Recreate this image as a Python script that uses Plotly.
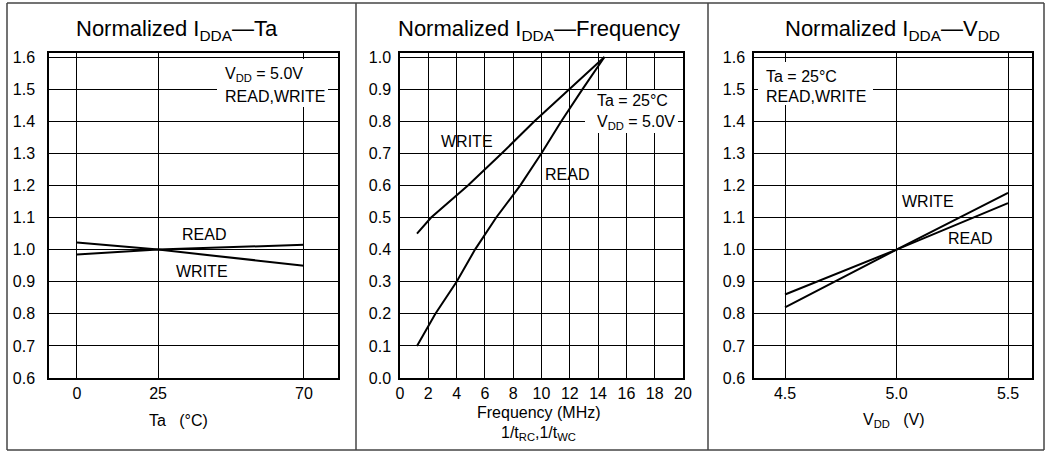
import plotly.graph_objects as go

W, H = 1046, 452

# ---------------- data ----------------
ta_x = [0, 25, 70]
ta_read = [0.985, 1.0, 1.015]
ta_write = [1.022, 1.0, 0.95]

freq_write_x = [1.2, 2.2, 4.8, 7.2, 9.5, 12.0, 14.45]
freq_write_y = [0.45, 0.5, 0.6, 0.7, 0.8, 0.9, 1.0]
freq_read_x = [1.2, 2.5, 4.0, 5.3, 6.8, 8.5, 10.0, 11.4, 12.9, 14.45]
freq_read_y = [0.1, 0.2, 0.3, 0.4, 0.5, 0.6, 0.7, 0.8, 0.9, 1.0]

vdd_x = [4.5, 5.0, 5.5]
vdd_write = [0.82, 1.0, 1.177]
vdd_read = [0.86, 1.0, 1.145]

ta_ticks = [0, 25, 70]
freq_ticks = [0, 2, 4, 6, 8, 10, 12, 14, 16, 18, 20]
vdd_ticks = [4.5, 5.0, 5.5]
vdd_ticklabels = ["4.5", "5.0", "5.5"]
norm_ticks_a = [0.6, 0.7, 0.8, 0.9, 1.0, 1.1, 1.2, 1.3, 1.4, 1.5, 1.6]
norm_ticks_b = [0.0, 0.1, 0.2, 0.3, 0.4, 0.5, 0.6, 0.7, 0.8, 0.9, 1.0]

titles = ["Normalized I<sub>DDA</sub>—Ta",
          "Normalized I<sub>DDA</sub>—Frequency",
          "Normalized I<sub>DDA</sub>—V<sub>DD</sub>"]

# ---------------- helpers ----------------
def px(x):
    return x / W

def py(y):
    return 1 - y / H

FONT = "Liberation Sans, Arial, Helvetica, sans-serif"
LINE = dict(color="black", width=2)

fig = go.Figure()

fig.add_trace(go.Scatter(x=ta_x, y=ta_read, mode="lines", line=LINE, xaxis="x", yaxis="y", name="READ"))
fig.add_trace(go.Scatter(x=ta_x, y=ta_write, mode="lines", line=LINE, xaxis="x", yaxis="y", name="WRITE"))
fig.add_trace(go.Scatter(x=freq_write_x, y=freq_write_y, mode="lines", line=LINE, xaxis="x2", yaxis="y2", name="WRITE"))
fig.add_trace(go.Scatter(x=freq_read_x, y=freq_read_y, mode="lines", line=LINE, xaxis="x2", yaxis="y2", name="READ"))
fig.add_trace(go.Scatter(x=vdd_x, y=vdd_write, mode="lines", line=LINE, xaxis="x3", yaxis="y3", name="WRITE"))
fig.add_trace(go.Scatter(x=vdd_x, y=vdd_read, mode="lines", line=LINE, xaxis="x3", yaxis="y3", name="READ"))

ydom = [py(378), py(53)]
axis_common = dict(showgrid=True, gridcolor="black", gridwidth=1.3, showline=True,
                   linecolor="black", linewidth=1.5, mirror=True, zeroline=False,
                   automargin=False, ticks="",
                   tickfont=dict(size=16, color="black", family=FONT))

fig.update_layout(
    template="none",
    width=W, height=H, margin=dict(l=0, r=0, t=0, b=0, pad=0, autoexpand=False),
    paper_bgcolor="white", plot_bgcolor="white", showlegend=False,
    font=dict(family=FONT, color="black", size=16),
    xaxis=dict(domain=[px(49), px(338)], range=[-8.63, 80.5], tickmode="array",
               tickvals=ta_ticks, anchor="y", ticklabelstandoff=0, **axis_common),
    yaxis=dict(domain=ydom, range=[0.6, 1.6125], tickmode="array", tickvals=norm_ticks_a,
               tickformat=".1f", anchor="x", ticklabelstandoff=9, **axis_common),
    xaxis2=dict(domain=[px(400), px(683)], range=[0, 20], tickmode="array",
                tickvals=freq_ticks, anchor="y2", ticklabelstandoff=0, **axis_common),
    yaxis2=dict(domain=ydom, range=[0, 1.0125], tickmode="array", tickvals=norm_ticks_b,
                tickformat=".1f", anchor="x2", ticklabelstandoff=4, **axis_common),
    xaxis3=dict(domain=[px(754), px(1032)], range=[4.361, 5.6076], tickmode="array",
                tickvals=vdd_ticks, ticktext=vdd_ticklabels, anchor="y3", ticklabelstandoff=0, **axis_common),
    yaxis3=dict(domain=ydom, range=[0.6, 1.6125], tickmode="array", tickvals=norm_ticks_a,
                tickformat=".1f", anchor="x3", ticklabelstandoff=4, **axis_common),
)

shapes = []
# outer frame and separators
for xv in [7, 356, 708, 1044]:
    shapes.append(dict(type="line", xref="paper", yref="paper", x0=px(xv), x1=px(xv),
                       y0=py(3), y1=py(450), line=dict(color="#444", width=1.5)))
for yv in [3, 450]:
    shapes.append(dict(type="line", xref="paper", yref="paper", x0=px(7), x1=px(1044),
                       y0=py(yv), y1=py(yv), line=dict(color="#444", width=1.5)))
fig.update_layout(shapes=shapes)

ann = []
# white boxes behind condition notes (hide gridlines)
for (x0, x1, y0, y1) in [(217, 328, 59, 107), (585, 678, 90, 133), (758, 873, 62, 105)]:
    ann.append(dict(xref="paper", yref="paper", x=px((x0 + x1) / 2), y=py((y0 + y1) / 2),
                    text="", showarrow=False, xanchor="center", yanchor="middle",
                    width=x1 - x0, height=y1 - y0, bgcolor="white", borderpad=0, borderwidth=0))

def note(x, y, text, size=16, xanchor="center"):
    ann.append(dict(xref="paper", yref="paper", x=px(x), y=py(y), text=text, showarrow=False,
                    xanchor=xanchor, yanchor="middle", font=dict(size=size, color="black", family=FONT)))

def dlabel(xr, yr, x, y, text, size=16):
    ann.append(dict(xref=xr, yref=yr, x=x, y=y, text=text, showarrow=False,
                    xanchor="center", yanchor="middle", font=dict(size=size, color="black", family=FONT)))

# titles
note(177, 30, titles[0], size=22)
note(539, 30, titles[1], size=22)
note(892, 30, titles[2], size=22)

# condition notes
note(223, 74, "V<sub>DD</sub> = 5.0V", xanchor="left")
note(223, 97, "READ,WRITE", xanchor="left")
note(595, 100, "Ta = 25°C", xanchor="left")
note(595, 123, "V<sub>DD</sub> = 5.0V", xanchor="left")
note(764, 76, "Ta = 25°C", xanchor="left")
note(764, 97, "READ,WRITE", xanchor="left")

# axis titles
note(178, 420, "Ta   (°C)")
note(539, 412, "Frequency (MHz)")
note(538, 433, "1/t<sub>RC</sub>,1/t<sub>WC</sub>")
note(894, 420, "V<sub>DD</sub>   (V)")

# curve labels
dlabel("x", "y", 39.2, 1.046, "READ")
dlabel("x", "y", 38.7, 0.932, "WRITE")
dlabel("x2", "y2", 4.71, 0.738, "WRITE")
dlabel("x2", "y2", 11.83, 0.634, "READ")
dlabel("x3", "y3", 5.139, 1.151, "WRITE")
dlabel("x3", "y3", 5.33, 1.034, "READ")

fig.update_layout(annotations=ann)

# remove the default page margin so the figure sits at the window's top-left corner
fig.write_html("out.html", config={"displayModeBar": False},
               post_script="document.body.style.margin='0px';")
